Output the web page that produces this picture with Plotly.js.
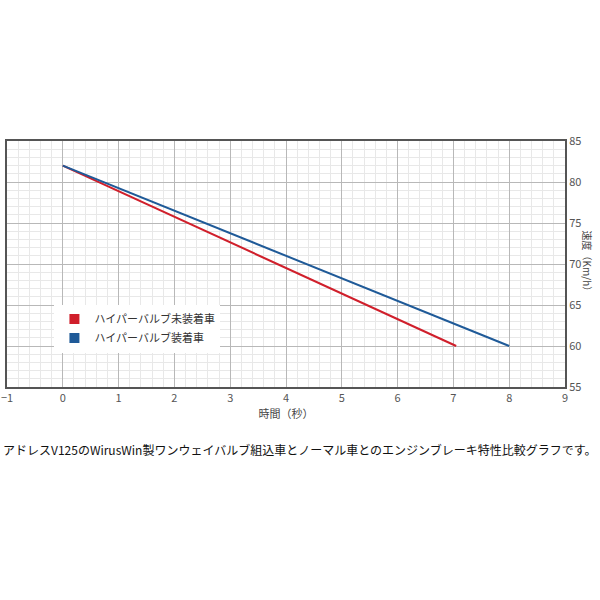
<!DOCTYPE html>
<html><head><meta charset="utf-8">
<script src="https://cdn.plot.ly/plotly-3.0.1.min.js"></script>
<style>body{margin:0;background:#fff}#c{width:600px;height:600px}</style>
</head><body><div id="c"></div>
<script>
const seriesNames = ['ハイパーバルブ未装着車', 'ハイパーバルブ装着車'];
const redTime = [0, 7.05];
const redSpeed = [82, 60];
const blueTime = [0, 8];
const blueSpeed = [82, 60];
const colors = ['#d01f2b', '#1f5a98'];
const xTitle = '時間（秒）';
const yTitle = '速度（Km/h）';
const caption = 'アドレスV125のWirusWin製ワンウェイバルブ組込車とノーマル車とのエンジンブレーキ特性比較グラフです。';

const traces = [
  {x: redTime, y: redSpeed, mode: 'lines', line: {color: colors[0], width: 2}, showlegend: false},
  {x: blueTime, y: blueSpeed, mode: 'lines', line: {color: colors[1], width: 2}, showlegend: false},
  {x: [null], y: [null], mode: 'markers', name: seriesNames[0], marker: {symbol: 'square', size: 10, color: colors[0]}},
  {x: [null], y: [null], mode: 'markers', name: seriesNames[1], marker: {symbol: 'square', size: 10, color: colors[1]}}
];
const layout = {
  width: 600, height: 600,
  margin: {l: 7, r: 35, t: 141, b: 213},
  paper_bgcolor: '#fff', plot_bgcolor: '#fff',
  font: {family: 'Noto Sans CJK JP, sans-serif', color: '#555', size: 11},
  showlegend: true,
  legend: {x: 0.085, y: 0.335, xanchor: 'left', yanchor: 'top', bgcolor: 'rgba(255,255,255,1)',
           font: {size: 11, color: '#333'}, tracegroupgap: 0, itemwidth: 30},
  xaxis: {range: [-1, 9], dtick: 1, tick0: 0, showgrid: true, gridcolor: '#b8b8b8', gridwidth: 1,
          minor: {dtick: 0.2, showgrid: true, gridcolor: '#e8e8e8'},
          zeroline: false, showline: true, mirror: true, linecolor: '#555', linewidth: 2,
          ticks: '', tickfont: {size: 11, color: '#555'},
          title: {text: xTitle, font: {size: 11, color: '#444'}, standoff: 4}},
  yaxis: {range: [55, 85], dtick: 5, side: 'right', showgrid: true, gridcolor: '#b8b8b8', gridwidth: 1,
          minor: {dtick: 1, showgrid: true, gridcolor: '#e8e8e8'},
          zeroline: false, showline: true, mirror: true, linecolor: '#555', linewidth: 2,
          ticks: '', tickfont: {size: 11, color: '#555'}},
  annotations: [
    {text: yTitle, textangle: 90, xref: 'paper', yref: 'paper', x: 1.042, y: 0.5, xanchor: 'center', yanchor: 'middle',
     showarrow: false, font: {size: 10, color: '#444'}},
    {text: caption, xref: 'paper', yref: 'paper', x: 0.525, y: -0.255, xanchor: 'center', yanchor: 'middle',
     showarrow: false, font: {size: 12, color: '#111'}}
  ]
};
Plotly.newPlot('c', traces, layout, {displayModeBar: false, staticPlot: true});
</script></body></html>
